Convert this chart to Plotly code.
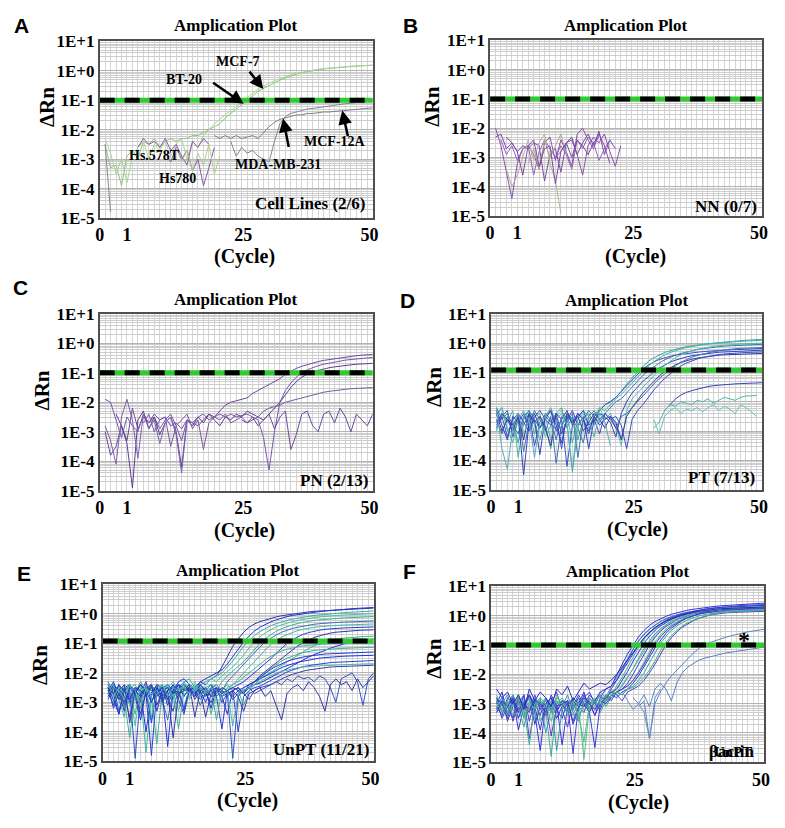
import math
import plotly.graph_objects as go

W, H = 785, 828

# ---------------- axis / label data ----------------
Y_TICK_VALUES = [-5, -4, -3, -2, -1, 0, 1]          # log10(ΔRn)
Y_TICK_LABELS = ["1E-5", "1E-4", "1E-3", "1E-2", "1E-1", "1E+0", "1E+1"]
X_TICK_LABELS = ["0", "1", "25", "50"]
PANEL_LETTERS = ["A", "B", "C", "D", "E", "F"]
PANEL_TAGS = ["Cell Lines (2/6)", "NN (0/7)", "PN (2/13)", "PT (7/13)", "UnPT (11/21)", "βactin"]
THRESHOLDS = [-1.0, -1.0, -1.0, -0.92, -0.92, -1.0]   # log10 threshold ΔRn

# ---------------- curves: log10(ΔRn) per cycle, starting at *_START cycle ----------------
A_START = [1, 1, 24, 1, 21, 7, 12, 14]
A_VALUES = [
    [-2.5,-3.3,-3.2,-3.9,-2.9,-2.7,-3.0,-2.4,-2.5,-2.3,-2.6,-2.4,-2.3,-2.4,-2.3,-2.3,-2.2,-2.2,-2.1,-2.0,-1.9,-1.8,-1.6,-1.45,-1.3,-1.15,-1.0,-0.85,-0.7,-0.6,-0.5,-0.4,-0.32,-0.25,-0.18,-0.12,-0.07,-0.03,0.0,0.03,0.06,0.08,0.1,0.12,0.13,0.15,0.16,0.17,0.18,0.19],
    [-2.3,-2.8,-3.5,-3.0,-3.8,-2.9,-2.6,-2.4,-3.0,-2.5,-2.7,-2.4,-2.9,-2.5,-2.3,-3.0,-2.4,-2.6,-2.2,-2.0,-1.8,-1.65,-1.5,-1.35,-1.2,-1.05,-0.9,-0.75,-0.62,-0.52,-0.42,-0.34,-0.27,-0.2,-0.14,-0.09,-0.05,-0.01,0.02,0.05,0.07,0.09,0.11,0.12,0.14,0.15,0.16,0.17,0.18,0.18],
    [-2.4,-2.9,-2.6,-2.8,-2.7,-2.9,-3.0,-3.1,-2.4,-1.8,-1.55,-1.45,-1.4,-1.35,-1.3,-1.28,-1.25,-1.22,-1.2,-1.18,-1.15,-1.12,-1.1,-1.08,-1.05,-1.03,-1.02],
    [-2.5,-4.8],
    [-2.2,-2.3,-2.2,-2.3,-2.2,-2.3,-2.25,-2.2,-2.3,-2.1,-1.9,-1.75,-1.65,-1.6,-1.55,-1.5,-1.5,-1.45,-1.45,-1.42,-1.4,-1.4,-1.38,-1.36,-1.35,-1.33,-1.32,-1.3,-1.28,-1.26],
    [-2.6,-2.3,-2.5,-2.4,-2.6,-2.3,-2.7,-2.5,-2.9,-3.2,-2.4,-2.6,-2.3,-2.5],
    [-2.8,-3.1,-2.6,-3.0,-2.7,-3.4,-3.0,-3.9,-3.3,-2.6],
    [-2.6,-3.1,-2.7,-3.4,-2.8,-3.2,-2.5,-3.5,-2.9],
]
A_COLOR = ["#8cc47c", "#a8d596", "#858592", "#858592", "#7d7d8c", "#8a5aa8", "#8a5aa8", "#b0cf90"]

B_START = [1, 1, 2, 3, 7, 12, 3]
B_VALUES = [
    [-2.0,-2.6,-3.5,-4.4,-3.2,-2.7,-2.6,-2.9,-3.4,-2.5,-2.3,-3.1,-2.4,-2.8,-3.3,-2.2,-2.0,-2.4,-2.7,-2.2,-2.6,-3.2],
    [-2.3,-2.2,-2.7,-2.5,-2.8,-2.6,-2.7,-2.5,-2.6,-3.8,-2.9,-2.7,-3.5,-2.5,-2.3,-2.9,-2.5,-2.2,-2.6,-2.1,-2.9,-2.4,-2.7],
    [-2.4,-2.9,-2.6,-3.1,-2.7,-2.6,-3.6,-2.8,-2.4,-2.7,-3.0,-2.6,-2.9,-3.4,-2.4,-2.7,-2.3,-2.5,-3.1,-2.7,-2.4],
    [-3.4,-4.0,-3.6,-3.0,-2.4,-3.1,-2.5,-2.2,-3.2,-3.8,-4.9],
    [-3.2,-2.7,-3.4,-2.4,-3.0,-2.6,-2.2,-2.9],
    [-3.0,-2.8,-2.5,-2.4,-2.9,-3.6,-2.6,-2.3,-2.5,-2.2,-2.8,-3.3,-2.6],
    [-2.3,-2.5,-2.8,-3.6,-2.6,-2.4,-3.3,-2.7,-2.6,-3.9,-2.8,-2.5,-3.0,-2.4,-2.6,-2.9,-2.5,-2.3],
]
B_COLOR = ["#8a4fb0", "#7c48a6", "#9560b8", "#b3b396", "#a9aa8c", "#8a4fb0", "#7c48a6"]

C_START = [1, 1, 3, 8, 26, 1]
C_VALUES = [
    [-3.0,-3.8,-3.5,-2.8,-3.3,-2.2,-2.9,-2.5,-2.7,-2.4,-2.6,-2.5,-2.8,-2.7,-2.9,-2.6,-2.7,-2.8,-2.6,-2.4,-2.5,-2.3,-2.1,-2.0,-1.95,-1.9,-1.85,-1.7,-1.6,-1.5,-1.4,-1.3,-1.2,-1.05,-0.95,-0.85,-0.78,-0.72,-0.67,-0.62,-0.58,-0.55,-0.52,-0.49,-0.46,-0.44,-0.42,-0.4,-0.39,-0.38],
    [-1.9,-2.0,-2.6,-3.2,-2.5,-2.8,-3.0,-2.4,-2.7,-2.5,-2.9,-2.6,-2.4,-2.8,-3.3,-2.6,-2.7,-2.5,-2.4,-2.6,-2.5,-2.4,-2.5,-2.4,-2.5,-2.45,-2.4,-2.5,-2.6,-3.2,-4.3,-3.0,-2.0,-1.6,-1.35,-1.15,-1.0,-0.9,-0.82,-0.76,-0.71,-0.67,-0.63,-0.6,-0.57,-0.55,-0.53,-0.51,-0.5,-0.48],
    [-2.4,-2.8,-3.4,-4.9,-2.6,-2.3,-2.9,-2.5,-3.1,-2.7,-2.5,-3.0,-4.2,-2.6,-2.8,-2.5,-2.7,-2.4,-2.6,-2.8,-2.5,-2.6,-2.4,-2.5,-2.3,-2.4,-2.5,-2.6,-2.4,-2.2,-2.0,-1.75,-1.5,-1.3,-1.15,-1.05,-0.97,-0.92,-0.87,-0.83,-0.8,-0.77,-0.75,-0.73,-0.71,-0.7,-0.69,-0.68],
    [-2.7,-2.4,-3.0,-2.6,-2.5,-3.5,-2.8,-2.6,-2.4,-2.9,-2.6,-3.6,-2.7,-2.5,-2.6,-2.4,-2.7,-2.6,-2.5,-2.7,-2.6,-2.5,-2.3,-2.2,-2.15,-2.1,-2.0,-1.95,-1.9,-1.85,-1.8,-1.75,-1.7,-1.66,-1.63,-1.6,-1.58,-1.56,-1.54,-1.53,-1.52,-1.51,-1.5],
    [-2.6,-2.7,-2.5,-2.8,-2.6,-2.4,-2.9,-2.5,-2.3,-3.6,-3.1,-2.4,-2.3,-2.8,-3.0,-2.4,-2.3,-2.7,-2.2,-2.5,-3.0,-2.4,-2.6,-2.8,-2.4],
    [-2.8,-3.3,-4.1,-2.5,-1.9,-2.6,-3.9,-2.4,-2.9,-2.6,-3.4,-2.7,-2.5,-3.1,-4.4,-2.6,-2.8,-2.5],
]
C_COLOR = ["#6d4aa0", "#7a55b0", "#5d3f90", "#7a5a9e", "#6a4a9a", "#8060b0"]

D_START = [1, 1, 1, 1, 1, 1, 1, 1, 1, 1, 30, 30, 1]
D_VALUES = [
    [-2.4,-2.2,-3.0,-2.7,-3.4,-2.6,-2.3,-3.1,-2.5,-2.8,-3.6,-2.4,-2.2,-2.9,-2.5,-3.3,-2.6,-2.4,-2.7,-2.3,-2.1,-2.0,-1.85,-1.65,-1.4,-1.18,-0.98,-0.8,-0.62,-0.5,-0.4,-0.32,-0.26,-0.2,-0.16,-0.12,-0.09,-0.06,-0.04,-0.02,0.0,0.02,0.04,0.06,0.08,0.09,0.1,0.11,0.12,0.13],
    [-2.9,-2.5,-2.3,-3.2,-2.6,-2.8,-2.4,-3.5,-2.7,-2.5,-2.3,-3.0,-2.6,-4.2,-2.8,-2.4,-2.6,-3.1,-2.5,-2.3,-2.1,-2.0,-1.85,-1.65,-1.45,-1.25,-1.05,-0.88,-0.75,-0.64,-0.56,-0.5,-0.45,-0.41,-0.38,-0.35,-0.33,-0.31,-0.29,-0.27,-0.26,-0.25,-0.24,-0.23,-0.22,-0.21,-0.2,-0.2,-0.19,-0.18],
    [-3.0,-2.4,-2.7,-2.3,-3.9,-2.6,-2.4,-2.8,-3.3,-2.5,-2.2,-2.7,-2.9,-2.4,-3.4,-2.6,-2.3,-2.5,-2.8,-2.2,-2.3,-2.1,-1.9,-1.75,-1.55,-1.35,-1.15,-0.95,-0.78,-0.63,-0.5,-0.4,-0.32,-0.25,-0.2,-0.15,-0.11,-0.08,-0.05,-0.03,-0.01,0.01,0.03,0.04,0.05,0.06,0.07,0.08,0.09,0.1],
    [-2.6,-3.1,-2.5,-2.9,-2.4,-3.7,-2.7,-2.3,-2.6,-3.0,-2.5,-4.1,-2.8,-2.4,-2.6,-2.9,-3.4,-2.5,-2.3,-2.6,-2.4,-2.2,-2.0,-1.9,-1.7,-1.5,-1.3,-1.1,-0.95,-0.8,-0.68,-0.57,-0.48,-0.41,-0.35,-0.3,-0.26,-0.22,-0.19,-0.16,-0.14,-0.12,-0.1,-0.09,-0.08,-0.07,-0.06,-0.05,-0.05,-0.04],
    [-2.3,-2.8,-3.3,-2.5,-2.7,-2.4,-2.9,-2.6,-3.8,-2.5,-2.7,-2.4,-3.1,-2.6,-2.3,-2.8,-2.5,-3.6,-2.6,-2.4,-2.5,-2.7,-3.2,-2.4,-2.0,-1.7,-1.5,-1.3,-1.15,-0.98,-0.85,-0.74,-0.65,-0.58,-0.52,-0.47,-0.43,-0.4,-0.37,-0.35,-0.33,-0.31,-0.3,-0.29,-0.28,-0.27,-0.26,-0.25,-0.25,-0.24],
    [-2.5,-2.2,-2.9,-3.4,-2.6,-2.3,-2.7,-2.5,-2.4,-3.2,-2.8,-2.5,-2.3,-2.7,-4.3,-2.6,-2.4,-2.9,-2.5,-2.2,-2.6,-2.4,-2.8,-3.5,-2.3,-1.9,-1.7,-1.5,-1.3,-1.1,-0.92,-0.76,-0.62,-0.5,-0.4,-0.32,-0.26,-0.21,-0.17,-0.14,-0.11,-0.09,-0.07,-0.05,-0.04,-0.03,-0.02,-0.01,0.0,0.0],
    [-2.7,-2.4,-2.6,-3.0,-2.5,-3.3,-2.4,-2.7,-2.5,-2.9,-3.5,-2.4,-2.6,-2.3,-2.8,-2.5,-3.0,-2.7,-2.4,-2.6,-2.9,-2.5,-2.7,-3.3,-2.5,-2.2,-1.95,-1.7,-1.5,-1.3,-1.12,-0.96,-0.84,-0.74,-0.66,-0.6,-0.55,-0.51,-0.48,-0.45,-0.43,-0.41,-0.4,-0.39,-0.38,-0.37,-0.36,-0.36,-0.35,-0.35],
    [-2.2,-2.6,-2.4,-2.8,-3.1,-2.5,-2.3,-2.6,-2.9,-2.4,-2.6,-3.3,-2.5,-2.7,-2.4,-3.9,-2.6,-2.3,-2.5,-2.7,-2.4,-2.6,-2.9,-2.5,-2.4,-2.2,-2.0,-1.8,-1.6,-1.4,-1.2,-1.05,-0.9,-0.77,-0.65,-0.56,-0.48,-0.42,-0.37,-0.33,-0.29,-0.26,-0.23,-0.21,-0.19,-0.18,-0.17,-0.16,-0.15,-0.15],
    [-2.8,-2.5,-3.2,-2.6,-2.4,-2.7,-3.0,-2.5,-2.3,-2.6,-2.8,-2.5,-3.6,-2.4,-2.7,-2.5,-2.3,-2.8,-2.6,-3.1,-2.4,-2.6,-2.5,-2.8,-3.6,-2.6,-2.3,-2.1,-1.85,-1.6,-1.4,-1.2,-1.05,-0.9,-0.78,-0.68,-0.6,-0.54,-0.49,-0.45,-0.42,-0.39,-0.37,-0.35,-0.34,-0.33,-0.32,-0.31,-0.3,-0.3],
    [-2.4,-3.0,-2.6,-2.8,-2.5,-4.5,-2.7,-2.4,-2.9,-2.6,-2.3,-2.8,-3.4,-2.5,-2.7,-2.4,-2.6,-3.0,-2.5,-2.8,-2.6,-2.5,-2.9,-3.2,None,None,None,None,None,None,None,-2.3,-2.1,-1.9,-1.77,-1.68,-1.62,-1.57,-1.52,-1.48,-1.45,-1.43,-1.41,-1.4,-1.39,-1.38,-1.37,-1.37,-1.36,-1.35],
    [-2.9,-2.7,-2.3,-2.1,-2.15,-2.0,-2.05,-2.1,-1.95,-2.0,-1.9,-2.05,-1.95,-1.85,-1.9,-1.95,-1.85,-1.8,-1.8,-1.78],
    [-2.6,-3.1,-2.5,-2.3,-2.2,-2.4,-2.25,-2.3,-2.2,-2.35,-2.2,-2.1,-2.3,-2.15,-2.25,-2.4,-2.1,-2.2,-2.35,-2.5],
    [-2.2,-3.6,-4.3,-2.9,-2.4,-3.1,-2.6,-3.9,-2.7,-2.5,-3.3,-2.6,-2.4,-2.8,-4.4,-2.9,-2.5,-2.6,-3.2,-2.4,-2.7,-3.5],
]
D_COLOR = ["#3aa6a0", "#3a4cc8", "#44b4a8", "#3b74b0", "#2f44c4", "#52bcae",
           "#36369a", "#3b74b0", "#3a4cc8", "#3442b8", "#4cb8a6", "#66c6b4", "#5aa8b8"]

E_START = [1] * 20
E_VALUES = [
    [-2.6,-3.1,-2.4,-2.8,-3.5,-2.5,-2.7,-2.3,-3.0,-2.6,-2.4,-2.9,-3.3,-2.5,-2.4,-2.6,-2.5,-2.3,-2.4,-2.2,-2.1,-1.8,-1.45,-1.1,-0.85,-0.62,-0.45,-0.34,-0.26,-0.2,-0.15,-0.1,-0.06,-0.03,0.0,0.03,0.05,0.07,0.09,0.1,0.12,0.13,0.14,0.15,0.16,0.17,0.18,0.19,0.2,0.2],
    [-2.3,-2.7,-3.4,-2.5,-2.4,-2.9,-2.6,-4.0,-2.7,-2.4,-2.5,-3.1,-2.6,-2.3,-2.2,-2.4,-2.6,-2.3,-2.2,-2.1,-2.0,-1.9,-1.7,-1.45,-1.2,-0.95,-0.75,-0.58,-0.45,-0.35,-0.27,-0.2,-0.14,-0.09,-0.05,-0.02,0.01,0.04,0.06,0.08,0.1,0.12,0.14,0.15,0.17,0.18,0.19,0.2,0.21,0.22],
    [-2.8,-2.4,-2.6,-3.2,-2.5,-2.7,-2.3,-2.6,-3.6,-2.5,-2.8,-2.4,-2.6,-2.9,-2.3,-2.2,-2.5,-2.4,-2.3,-2.2,-2.1,-2.0,-1.8,-1.6,-1.35,-1.1,-0.9,-0.73,-0.6,-0.49,-0.4,-0.33,-0.27,-0.22,-0.18,-0.14,-0.11,-0.08,-0.05,-0.03,-0.01,0.01,0.03,0.04,0.05,0.06,0.07,0.08,0.09,0.1],
    [-2.5,-3.0,-2.7,-2.4,-2.6,-3.8,-2.5,-2.8,-2.4,-2.7,-3.1,-2.5,-2.3,-2.6,-2.4,-2.5,-2.3,-2.6,-2.4,-2.2,-2.3,-2.1,-1.95,-1.8,-1.6,-1.4,-1.15,-0.95,-0.78,-0.64,-0.53,-0.44,-0.37,-0.31,-0.26,-0.22,-0.18,-0.15,-0.12,-0.1,-0.08,-0.06,-0.05,-0.04,-0.03,-0.02,-0.01,0.0,0.0,0.01],
    [-2.4,-2.6,-2.9,-3.5,-2.5,-2.4,-2.7,-2.5,-2.8,-4.4,-2.6,-2.4,-2.9,-2.5,-2.3,-2.6,-2.4,-2.7,-2.5,-2.4,-2.6,-2.3,-2.1,-1.95,-1.8,-1.62,-1.42,-1.2,-1.0,-0.83,-0.7,-0.59,-0.5,-0.43,-0.37,-0.32,-0.28,-0.25,-0.22,-0.2,-0.18,-0.16,-0.15,-0.14,-0.13,-0.12,-0.11,-0.1,-0.1,-0.09],
    [-2.7,-2.4,-3.3,-2.6,-2.8,-2.5,-3.0,-2.4,-2.6,-2.5,-2.9,-3.6,-2.6,-2.4,-2.5,-2.8,-2.6,-3.1,-2.7,-2.5,-2.4,-2.6,-2.3,-2.1,-1.9,-1.72,-1.52,-1.32,-1.12,-0.95,-0.82,-0.71,-0.62,-0.55,-0.49,-0.45,-0.41,-0.38,-0.35,-0.33,-0.31,-0.3,-0.29,-0.28,-0.27,-0.26,-0.26,-0.25,-0.25,-0.24],
    [-2.5,-2.8,-2.4,-2.6,-3.1,-2.5,-2.7,-4.7,-2.8,-2.5,-2.4,-2.7,-2.6,-3.3,-2.5,-2.4,-2.6,-2.8,-2.5,-3.4,-2.7,-2.5,-2.6,-2.4,-2.2,-2.0,-1.82,-1.62,-1.42,-1.22,-1.04,-0.9,-0.79,-0.7,-0.62,-0.56,-0.52,-0.48,-0.45,-0.43,-0.41,-0.4,-0.39,-0.38,-0.37,-0.36,-0.36,-0.35,-0.35,-0.34],
    [-2.6,-2.3,-2.8,-2.5,-3.0,-2.7,-2.4,-2.6,-3.7,-2.5,-2.8,-2.6,-2.4,-2.9,-3.4,-2.6,-2.5,-2.7,-2.6,-2.4,-2.8,-3.9,-2.6,-2.5,-2.4,-2.3,-2.15,-2.0,-1.85,-1.7,-1.52,-1.34,-1.16,-1.0,-0.87,-0.77,-0.69,-0.63,-0.58,-0.55,-0.52,-0.5,-0.49,-0.48,-0.47,-0.46,-0.46,-0.45,-0.45,-0.44],
    [-2.9,-2.5,-2.7,-3.3,-2.4,-2.6,-2.8,-2.5,-2.4,-3.1,-2.6,-2.5,-2.7,-2.4,-2.6,-2.5,-2.9,-2.6,-3.5,-2.7,-2.5,-2.6,-2.8,-2.6,-2.5,-2.7,-2.5,-2.3,-2.1,-1.95,-1.8,-1.65,-1.5,-1.35,-1.2,-1.08,-0.97,-0.88,-0.8,-0.74,-0.69,-0.65,-0.62,-0.6,-0.58,-0.57,-0.56,-0.55,-0.55,-0.54],
    [-2.4,-2.7,-2.5,-2.9,-4.2,-2.6,-2.4,-2.8,-2.5,-2.7,-2.4,-3.0,-2.6,-2.5,-2.8,-2.5,-2.6,-2.4,-2.7,-2.5,-3.6,-2.6,-2.4,-2.6,-2.8,-2.5,-2.4,-2.3,-2.2,-2.1,-1.98,-1.86,-1.74,-1.62,-1.5,-1.38,-1.27,-1.17,-1.08,-1.0,-0.94,-0.9,-0.86,-0.83,-0.81,-0.79,-0.78,-0.77,-0.76,-0.75],
    [-2.5,-2.9,-3.4,-2.6,-2.5,-2.7,-2.4,-2.6,-3.0,-2.5,-2.7,-4.5,-2.6,-2.4,-2.6,-2.5,-2.8,-2.4,-2.6,-3.2,-2.5,-2.7,-2.6,-2.9,-2.7,-2.6,-2.5,-2.4,-2.35,-2.25,-2.15,-2.05,-1.95,-1.85,-1.75,-1.65,-1.55,-1.46,-1.38,-1.3,-1.23,-1.16,-1.1,-1.04,-0.99,-0.95,-0.92,-0.89,-0.87,-0.85],
    [-2.7,-2.4,-2.6,-3.0,-2.5,-2.8,-3.6,-2.6,-2.4,-2.7,-2.5,-2.9,-2.6,-2.4,-2.8,-2.5,-2.7,-2.6,-3.0,-2.5,-2.6,-2.8,-3.4,-2.6,-2.5,-2.7,-2.4,-2.3,-2.2,-2.1,-2.0,-1.9,-1.82,-1.75,-1.69,-1.64,-1.6,-1.56,-1.53,-1.5,-1.48,-1.46,-1.45,-1.44,-1.43,-1.42,-1.41,-1.41,-1.4,-1.4],
    [-2.5,-3.2,-2.7,-2.5,-2.9,-2.6,-2.4,-2.7,-4.8,-2.6,-2.5,-2.8,-2.4,-2.6,-3.3,-2.5,-2.7,-2.4,-2.6,-2.8,-2.5,-3.0,-2.7,-2.6,-4.0,-2.8,-2.6,-2.5,-2.45,-2.35,-2.25,-2.15,-2.05,-1.97,-1.9,-1.84,-1.79,-1.75,-1.72,-1.69,-1.67,-1.65,-1.64,-1.63,-1.62,-1.61,-1.6,-1.6,-1.59,-1.58],
    [-2.6,-2.4,-2.9,-2.5,-2.7,-3.4,-2.5,-2.6,-2.4,-2.8,-2.6,-2.5,-2.7,-3.9,-2.6,-2.4,-2.5,-2.7,-2.6,-2.4,-2.5,-2.7,-2.6,-2.5,-2.6,-3.1,-2.6,-2.4,-2.2,-2.0,-1.85,-1.72,-1.6,-1.5,-1.42,-1.36,-1.31,-1.27,-1.24,-1.22,-1.2,-1.19,-1.18,-1.17,-1.16,-1.15,-1.15,-1.14,-1.14,-1.13],
    [-2.8,-2.5,-2.6,-2.4,-3.7,-2.6,-2.8,-2.5,-2.7,-2.4,-3.0,-2.6,-2.5,-2.7,-2.6,-2.4,-3.5,-2.6,-2.5,-2.8,-2.7,-2.5,-2.6,-2.8,-2.6,-2.7,-2.9,-2.6,-2.5,-2.45,-2.4,-2.3,-2.2,-2.12,-2.05,-1.99,-1.94,-1.9,-1.87,-1.84,-1.82,-1.8,-1.79,-1.78,-1.77,-1.76,-1.76,-1.75,-1.75,-1.74],
    [-2.4,-2.7,-2.5,-3.1,-2.6,-4.9,-2.7,-2.5,-2.6,-2.8,-2.5,-2.4,-2.7,-2.6,-3.2,-2.5,-2.6,-2.9,-2.7,-2.6,-2.8,-2.6,-2.7,-4.9,-2.8,-2.6,-2.5,-2.7,-2.6,-2.5,-2.4,-2.3,-2.4,-2.2,-2.3,-2.1,-2.2,-2.15,-2.3,-2.1,-2.2,-2.5,-3.0,-2.2,-2.1,-2.0,-2.3,-3.1,-2.2,-2.0],
    [-2.6,-2.5,-2.9,-2.6,-2.4,-2.7,-3.4,-2.6,-2.5,-2.7,-2.9,-2.6,-4.2,-2.7,-2.5,-2.6,-2.8,-2.5,-2.7,-3.0,-2.6,-2.8,-2.7,-2.6,-2.8,-3.3,-2.7,-2.6,-2.5,-2.8,-2.6,-3.1,-3.6,-2.7,-2.5,-2.4,-2.6,-2.3,-2.5,-2.8,-3.3,-2.4,-2.2,-2.4,-2.3,-2.6,-2.2,-2.5,-2.3,-2.1],
    [-2.3,-2.8,-2.5,-2.7,-2.4,-2.9,-2.6,-2.5,-3.5,-2.7,-2.6,-2.4,-2.8,-2.6,-2.5,-2.7,-2.5,-2.8,-2.6,-2.7,-3.0,-2.8,-2.6,-3.8,-2.7,-2.6,-2.5,-2.4,-2.3,-2.2,-2.1,-2.0,-1.95,-1.9,-1.85,-1.82,-1.8,-1.78,-1.77,-1.76,-1.75,-1.74,-1.73,-1.72,-1.72,-1.71,-1.7,-1.7,-1.69,-1.69],
    [-2.5,-2.7,-2.4,-2.6,-2.9,-2.5,-2.6,-2.8,-2.4,-3.3,-2.6,-2.5,-2.7,-2.6,-2.4,-2.6,-2.7,-2.5,-2.8,-2.6,-2.5,-2.7,-2.6,-2.5,-2.6,-2.5,-2.4,-2.3,-2.15,-2.0,-1.88,-1.78,-1.69,-1.61,-1.55,-1.5,-1.46,-1.43,-1.4,-1.38,-1.36,-1.35,-1.34,-1.33,-1.32,-1.31,-1.31,-1.3,-1.3,-1.29],
    [-2.7,-2.5,-2.6,-2.9,-2.4,-2.6,-3.2,-2.5,-2.7,-2.6,-2.4,-2.8,-2.5,-2.6,-2.4,-2.9,-2.6,-2.5,-2.7,-2.5,-2.6,-2.8,-2.5,-2.4,-2.3,-2.15,-2.0,-1.85,-1.7,-1.56,-1.44,-1.34,-1.26,-1.2,-1.15,-1.11,-1.08,-1.06,-1.04,-1.03,-1.02,-1.01,-1.0,-1.0,-0.99,-0.99,-0.98,-0.98,-0.97,-0.97],
]
E_COLOR = ["#3434a4", "#1f34dc", "#3fae9e", "#4cc0a0", "#3fae9e", "#3a6cb0", "#44b8a4",
           "#2a3ad0", "#3434a4", "#3fae9e", "#1f34dc", "#1f34dc", "#2a44d0", "#3fae9e",
           "#3a3aa0", "#3050c8", "#3434a4", "#48b8a8", "#2a3ad0", "#46b2a0"]

F_START = [1] * 16 + [27, 26, 24]
F_VALUES = [
    [-3.0,-2.6,-3.4,-2.8,-3.9,-3.1,-2.7,-3.3,-4.6,-3.0,-2.8,-3.5,-3.1,-2.9,-3.7,-3.2,-2.7,-3.0,-3.4,-2.8,-2.5,-2.4,-2.0,-1.65,-1.3,-1.0,-0.72,-0.5,-0.33,-0.2,-0.1,-0.02,0.05,0.1,0.15,0.19,0.22,0.25,0.28,0.3,0.32,0.34,0.35,0.37,0.38,0.39,0.4,0.41,0.42,0.43],
    [-2.8,-3.3,-2.9,-3.6,-3.0,-2.7,-4.2,-3.1,-2.9,-3.4,-3.0,-2.6,-3.2,-3.8,-2.9,-3.1,-3.3,-2.8,-3.0,-2.7,-2.9,-2.5,-2.2,-1.85,-1.5,-1.15,-0.87,-0.64,-0.46,-0.32,-0.2,-0.1,-0.03,0.03,0.08,0.12,0.16,0.19,0.22,0.24,0.26,0.28,0.29,0.3,0.31,0.32,0.33,0.34,0.35,0.35],
    [-3.2,-2.9,-3.0,-3.5,-2.7,-3.1,-3.3,-2.8,-3.6,-3.2,-4.8,-3.0,-2.8,-3.1,-3.4,-2.9,-3.2,-3.0,-2.8,-3.3,-2.9,-2.7,-2.4,-2.1,-1.75,-1.4,-1.08,-0.82,-0.6,-0.43,-0.3,-0.19,-0.1,-0.03,0.03,0.08,0.12,0.15,0.18,0.2,0.22,0.24,0.25,0.26,0.27,0.28,0.29,0.29,0.3,0.3],
    [-2.9,-3.5,-3.1,-2.7,-3.3,-3.0,-2.8,-3.7,-3.1,-2.9,-3.2,-3.0,-4.4,-3.1,-2.8,-3.0,-2.6,-3.3,-2.9,-3.1,-2.8,-2.6,-2.5,-2.2,-1.9,-1.55,-1.22,-0.94,-0.7,-0.5,-0.35,-0.23,-0.13,-0.05,0.01,0.06,0.1,0.13,0.16,0.18,0.2,0.21,0.22,0.23,0.24,0.24,0.25,0.25,0.26,0.26],
    [-3.3,-3.0,-2.7,-3.2,-3.5,-2.9,-3.1,-3.0,-2.8,-4.0,-3.2,-2.9,-3.1,-2.7,-3.3,-3.6,-2.9,-3.0,-3.2,-2.8,-3.0,-2.7,-2.6,-2.4,-2.1,-1.8,-1.45,-1.12,-0.85,-0.62,-0.44,-0.3,-0.19,-0.1,-0.03,0.02,0.06,0.09,0.11,0.13,0.14,0.15,0.16,0.17,0.18,0.18,0.19,0.19,0.2,0.2],
    [-3.0,-2.8,-3.6,-3.1,-2.9,-3.2,-2.7,-3.0,-3.4,-2.8,-3.1,-3.3,-2.9,-3.0,-4.7,-3.1,-2.8,-2.6,-3.0,-3.2,-2.7,-2.9,-2.6,-2.5,-2.3,-2.0,-1.65,-1.3,-1.0,-0.74,-0.53,-0.37,-0.24,-0.14,-0.06,0.01,0.06,0.1,0.14,0.17,0.19,0.21,0.23,0.25,0.26,0.27,0.28,0.29,0.3,0.3],
    [-2.7,-3.1,-2.9,-3.4,-3.0,-3.2,-2.8,-3.5,-3.0,-2.9,-3.3,-2.7,-3.1,-3.0,-2.8,-3.4,-4.3,-3.0,-2.9,-3.1,-2.8,-2.6,-2.7,-2.5,-2.4,-2.2,-1.9,-1.55,-1.2,-0.9,-0.65,-0.46,-0.31,-0.2,-0.11,-0.04,0.02,0.06,0.1,0.12,0.14,0.16,0.17,0.18,0.19,0.2,0.21,0.21,0.22,0.22],
    [-3.1,-3.4,-2.8,-3.0,-3.3,-2.7,-3.6,-2.9,-3.1,-3.0,-2.8,-3.2,-3.5,-2.9,-3.1,-2.7,-3.0,-3.3,-4.5,-3.0,-2.9,-2.7,-2.8,-2.6,-2.5,-2.3,-2.05,-1.75,-1.42,-1.1,-0.83,-0.6,-0.42,-0.28,-0.16,-0.07,0.0,0.06,0.11,0.15,0.19,0.22,0.25,0.27,0.29,0.3,0.32,0.33,0.34,0.35],
    [-2.9,-3.2,-3.0,-2.7,-3.1,-3.8,-2.9,-3.2,-3.0,-2.8,-3.3,-3.0,-2.9,-3.4,-3.1,-2.8,-3.0,-3.2,-2.9,-2.7,-3.1,-2.8,-2.6,-2.7,-2.5,-2.4,-2.2,-1.95,-1.6,-1.25,-0.95,-0.7,-0.5,-0.35,-0.23,-0.14,-0.07,-0.01,0.04,0.07,0.1,0.12,0.13,0.14,0.15,0.16,0.17,0.17,0.18,0.18],
    [-3.2,-2.9,-3.1,-3.5,-2.8,-3.0,-3.3,-2.7,-3.2,-3.0,-4.1,-3.1,-2.9,-3.0,-3.2,-2.8,-3.1,-2.9,-3.4,-3.0,-2.8,-2.6,-2.7,-2.9,-2.6,-2.5,-2.4,-2.2,-1.95,-1.65,-1.3,-1.0,-0.75,-0.55,-0.39,-0.27,-0.17,-0.09,-0.03,0.02,0.05,0.08,0.1,0.11,0.12,0.13,0.14,0.14,0.15,0.15],
    [-3.1,-2.8,-3.3,-3.0,-2.9,-3.5,-3.1,-2.8,-3.0,-3.3,-2.9,-4.6,-3.2,-2.9,-3.1,-3.0,-2.8,-3.2,-2.9,-2.6,-2.8,-2.4,-2.1,-1.8,-1.45,-1.12,-0.85,-0.62,-0.45,-0.31,-0.2,-0.11,-0.04,0.02,0.07,0.11,0.14,0.17,0.19,0.21,0.22,0.23,0.24,0.25,0.26,0.26,0.27,0.27,0.28,0.28],
    [-2.8,-3.0,-3.5,-2.9,-3.2,-3.0,-2.7,-3.1,-3.9,-3.0,-2.8,-3.2,-3.0,-3.3,-2.8,-3.0,-3.1,-2.7,-2.9,-2.6,-2.5,-2.4,-2.2,-1.9,-1.6,-1.3,-1.0,-0.76,-0.56,-0.4,-0.27,-0.16,-0.07,0.0,0.06,0.11,0.15,0.19,0.22,0.25,0.27,0.29,0.31,0.32,0.34,0.35,0.36,0.37,0.37,0.38],
    [-3.0,-3.3,-2.9,-3.1,-2.7,-3.4,-3.0,-3.2,-2.8,-3.0,-3.6,-2.9,-3.1,-3.3,-2.9,-3.0,-4.9,-3.1,-2.8,-3.0,-2.9,-2.7,-2.5,-2.35,-2.1,-1.8,-1.5,-1.2,-0.92,-0.68,-0.49,-0.34,-0.22,-0.12,-0.04,0.02,0.08,0.12,0.16,0.19,0.22,0.24,0.26,0.27,0.28,0.29,0.3,0.31,0.31,0.32],
    [-3.3,-2.9,-3.1,-2.8,-3.5,-3.0,-3.2,-2.9,-3.0,-3.3,-2.7,-3.1,-3.0,-2.9,-3.6,-3.1,-2.8,-3.0,-3.2,-2.9,-3.0,-2.8,-2.6,-2.5,-2.4,-2.2,-1.95,-1.65,-1.3,-0.98,-0.72,-0.52,-0.36,-0.24,-0.14,-0.06,0.0,0.05,0.09,0.12,0.15,0.17,0.19,0.2,0.21,0.22,0.23,0.24,0.24,0.25],
    [-2.9,-3.1,-3.4,-3.0,-2.8,-3.2,-4.4,-3.0,-2.9,-3.1,-3.3,-2.8,-3.0,-3.2,-2.9,-3.5,-3.0,-2.8,-3.1,-2.9,-2.7,-2.8,-2.6,-2.7,-2.5,-2.45,-2.3,-2.1,-1.85,-1.55,-1.2,-0.92,-0.68,-0.5,-0.35,-0.24,-0.15,-0.08,-0.02,0.03,0.07,0.1,0.12,0.14,0.15,0.16,0.17,0.18,0.19,0.2],
    [-2.5,-2.8,-2.6,-3.0,-2.7,-3.2,-2.5,-2.9,-2.6,-2.8,-3.1,-2.5,-2.7,-2.4,-2.9,-2.6,-2.3,-2.5,-2.4,-2.3,-2.35,-2.2,-2.0,-1.75,-1.5,-1.25,-0.98,-0.75,-0.56,-0.41,-0.28,-0.18,-0.1,-0.03,0.03,0.08,0.12,0.15,0.18,0.2,0.22,0.24,0.25,0.26,0.27,0.28,0.28,0.29,0.29,0.3],
    [-3.1,-2.9,-4.2,-3.0,-2.6,-2.3,-2.05,-1.85,-1.65,-1.45,-1.28,-1.12,-1.0,-0.92,-0.85,-0.79,-0.73,-0.68,-0.63,-0.59,-0.55,-0.52,-0.49,-0.46],
    [-2.8,-3.0,-2.7,-3.1,-2.5,-2.3,-2.5,-2.9,-2.3,-1.95,-1.75,-1.62,-1.52,-1.45,-1.4,-1.35,-1.31,-1.27,-1.24,-1.21,-1.18,-1.15,-1.12,-1.1,-1.07],
    [-2.6,-2.9,-3.2,-3.0,-3.3,-4.2,-2.8,-2.5],
]
F_COLOR = ["#3434d8", "#5a3cc8", "#3cb090", "#3434d8", "#3a98b0", "#4a3ad0", "#55be8a", "#2f3cd8",
           "#3cb090", "#5a3cc8", "#3a98b0", "#3434d8", "#55be8a", "#4a3ad0", "#3cb090", "#2a2ac0",
           "#5a82c0", "#5a82c0", "#6a90c8"]

PANEL_DATA = [
    (A_START, A_VALUES, A_COLOR),
    (B_START, B_VALUES, B_COLOR),
    (C_START, C_VALUES, C_COLOR),
    (D_START, D_VALUES, D_COLOR),
    (E_START, E_VALUES, E_COLOR),
    (F_START, F_VALUES, F_COLOR),
]

# ---------------- layout geometry (pixels) ----------------
GEOM = [(96, 373, 33, 214), (492, 768, 32, 212), (96, 373, 312, 493),
        (493, 768, 312, 492), (99, 374, 589, 770), (493, 770, 591, 771)]
TITLE_Y = [17, 17, 297, 298, 575, 576]
LETTER_POS = [(17, 17), (411, 17), (16, 285), (408, 298), (19, 578), (410, 576)]
DRN_POS = [(42, 100), (433, 100), (38, 390), (435, 387), (35, 672), (435, 665)]
CYCLE_POS = [(243, 253), (639, 253), (243, 534), (641, 533), (246, 810), (642, 812)]
TAG_POS = [(368, 199), (765, 202), (370, 483), (763, 480), (372, 758), (762, 760)]
X_TICK_POS = [0, 5, 26.3, 49.4]

SERIF = "Liberation Serif"
SANS = "Liberation Sans"


def px(x):
    return x / W


def py(y):
    return 1 - y / H


fig = go.Figure()
annotations = []
Y_MINOR = [k + math.log10(m) for k in range(-5, 1) for m in range(2, 10)]

for i, (starts, values, colors) in enumerate(PANEL_DATA):
    n = "" if i == 0 else str(i + 1)
    xa, ya = "x" + n, "y" + n
    x0, x1, y0, y1 = GEOM[i]
    for s, v, c in zip(starts, values, colors):
        fig.add_trace(go.Scatter(x=list(range(s, s + len(v))), y=v, mode="lines",
                                 line=dict(color=c, width=1), xaxis=xa, yaxis=ya,
                                 hoverinfo="skip", showlegend=False))
    t = THRESHOLDS[i]
    fig.add_trace(go.Scatter(x=[0, 50], y=[t, t], mode="lines",
                             line=dict(color="#2ecc2e", width=5), xaxis=xa, yaxis=ya,
                             hoverinfo="skip", showlegend=False))
    fig.add_trace(go.Scatter(x=[0, 50], y=[t, t], mode="lines",
                             line=dict(color="black", width=5, dash="15px,10px"), xaxis=xa, yaxis=ya,
                             hoverinfo="skip", showlegend=False))

    fig.layout["xaxis" + n] = dict(
        domain=[px(x0), px(x1)], anchor=ya, range=[0, 50],
        tickmode="array", tickvals=X_TICK_POS, ticktext=X_TICK_LABELS, ticks="",
        showgrid=False, zeroline=False,
        minor=dict(tickmode="array", tickvals=list(range(1, 50)), showgrid=True,
                   gridcolor="#d4d4d4", gridwidth=1, ticks=""),
        showline=True, mirror=True, linecolor="#505050", linewidth=1.5,
        tickfont=dict(family=SERIF, size=18, color="black", weight="bold"),
        fixedrange=True)
    fig.layout["yaxis" + n] = dict(
        domain=[py(y1), py(y0)], anchor=xa, range=[-5, 1],
        tickmode="array", tickvals=Y_TICK_VALUES, ticktext=Y_TICK_LABELS, ticks="",
        showgrid=True, gridcolor="#b4b4b4", gridwidth=1, zeroline=False,
        minor=dict(tickmode="array", tickvals=Y_MINOR, showgrid=True,
                   gridcolor="#cdcdcd", gridwidth=1, ticks=""),
        showline=True, mirror=True, linecolor="#505050", linewidth=1.5,
        tickfont=dict(family=SERIF, size=17, color="black", weight="bold"),
        fixedrange=True)

    cx = (x0 + x1) / 2
    annotations.append(dict(x=px(cx), y=py(TITLE_Y[i]), xref="paper", yref="paper",
                            text="<b>Amplication Plot</b>", showarrow=False,
                            font=dict(family=SERIF, size=17, color="black"),
                            xanchor="center", yanchor="middle"))
    lx, ly = LETTER_POS[i]
    annotations.append(dict(x=px(lx), y=py(ly), xref="paper", yref="paper",
                            text="<b>%s</b>" % PANEL_LETTERS[i], showarrow=False,
                            font=dict(family=SANS, size=21, color="black"),
                            xanchor="center", yanchor="middle"))
    dx, dy = DRN_POS[i]
    annotations.append(dict(x=px(dx), y=py(dy), xref="paper", yref="paper",
                            text="<b>ΔRn</b>", showarrow=False, textangle=-90,
                            font=dict(family=SERIF, size=21, color="black"),
                            xanchor="center", yanchor="middle"))
    ccx, ccy = CYCLE_POS[i]
    annotations.append(dict(x=px(ccx), y=py(ccy), xref="paper", yref="paper",
                            text="<b>(Cycle)</b>", showarrow=False,
                            font=dict(family=SERIF, size=20, color="black"),
                            xanchor="center", yanchor="middle"))
    tx, ty = TAG_POS[i]
    annotations.append(dict(x=px(tx), y=py(ty), xref="paper", yref="paper",
                            text="<b>%s</b>" % PANEL_TAGS[i], showarrow=False,
                            font=dict(family=SERIF, size=17, color="black"),
                            xanchor="right", yanchor="middle"))

# overlapping tag in panel F (as printed in the source figure)
annotations.append(dict(x=px(760), y=py(760), xref="paper", yref="paper",
                        text="<b>UnPT</b>", showarrow=False,
                        font=dict(family=SERIF, size=15, color="black"),
                        xanchor="right", yanchor="middle"))

# cell line labels in panel A
CELL_LABELS = ["MCF-7", "BT-20", "Hs.578T", "Hs780", "MDA-MB-231", "MCF-12A"]
CELL_LABEL_POS = [(236, 54), (182, 72), (152, 150), (175, 173), (277, 159), (335, 136)]
for lab, (lx, ly) in zip(CELL_LABELS, CELL_LABEL_POS):
    annotations.append(dict(x=px(lx), y=py(ly), xref="paper", yref="paper",
                            text="<b>%s</b>" % lab, showarrow=False,
                            font=dict(family=SERIF, size=14, color="black"),
                            xanchor="center", yanchor="middle"))

# arrows (head position, tail offset in px)
ARROWS = [((242, 97), (-32, -22)), ((262, 82), (-15, -19)),
          ((282, 112), (6, 30)), ((342, 104), (6, 27))]
for (hx, hy), (ax, ay) in ARROWS:
    annotations.append(dict(x=px(hx), y=py(hy), xref="paper", yref="paper", text="",
                            showarrow=True, ax=ax, ay=ay, arrowhead=2, arrowsize=1.1,
                            arrowwidth=2.5, arrowcolor="black"))

# asterisk in panel F
annotations.append(dict(x=px(750), y=py(646), xref="paper", yref="paper",
                        text="<b>*</b>", showarrow=False,
                        font=dict(family=SERIF, size=24, color="black"),
                        xanchor="center", yanchor="middle"))

fig.update_layout(width=W, height=H, autosize=False,
                  margin=dict(l=0, r=0, t=0, b=0),
                  paper_bgcolor="white", plot_bgcolor="white",
                  showlegend=False, hovermode=False,
                  annotations=annotations)

fig.write_html("out.html", config={"displayModeBar": False},
               post_script="document.body.style.margin='0px';document.body.style.overflow='hidden';")
